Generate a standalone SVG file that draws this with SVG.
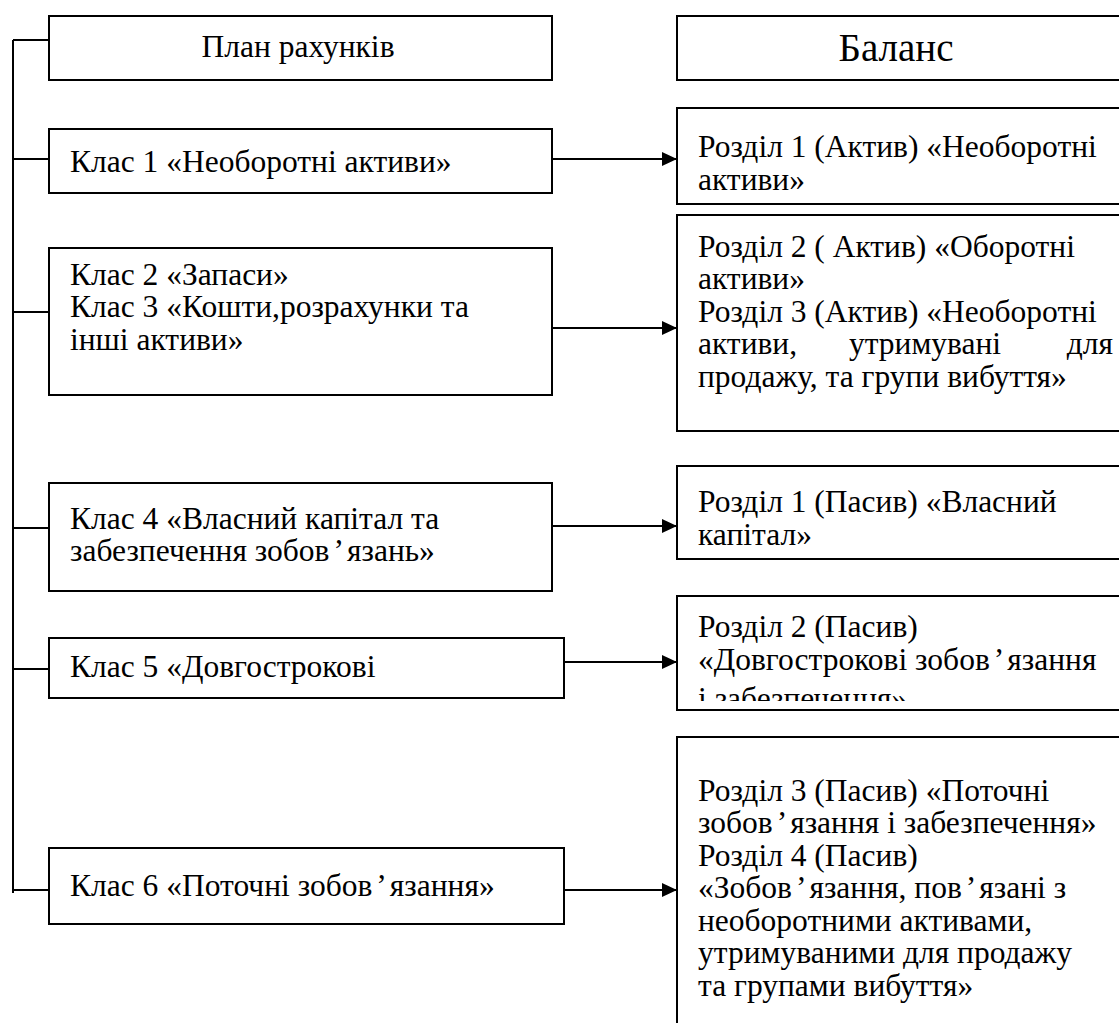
<svg xmlns="http://www.w3.org/2000/svg" width="1119" height="1023" viewBox="0 0 1119 1023">
<style>
.box{fill:#fff;stroke:#000;stroke-width:2}
.ln{stroke:#000;stroke-width:2;fill:none}
text{font-family:"Liberation Serif","Times New Roman",serif;font-size:31.5px;fill:#000}
.big{font-size:39px}
</style>
<defs>
<marker id="ah" markerWidth="16" markerHeight="14" refX="15" refY="7" orient="auto" markerUnits="userSpaceOnUse">
<path d="M0,0 L15,7 L0,14 Z" fill="#000"/>
</marker>
<clipPath id="clipP2"><rect x="677" y="596" width="450" height="105"/></clipPath>
</defs>
<rect width="1119" height="1023" fill="#fff"/>

<g id="bracket">
<path class="ln" d="M13,40 V893 M13,40 H49 M13,159 H49 M13,312 H49 M13,528 H49 M13,669 H49 M13,890 H49"/>
</g>

<g id="plan">
<rect class="box" x="49" y="16" width="503" height="64"/>
<text x="298" y="57" text-anchor="middle">План рахунків</text>
</g>
<g id="balans">
<rect class="box" x="677" y="16" width="460" height="64"/>
<text class="big" x="896" y="61" text-anchor="middle">Баланс</text>
</g>

<g id="klas1">
<rect class="box" x="49" y="129" width="503" height="64"/>
<text x="70" y="172">Клас 1 «Необоротні активи»</text>
</g>
<g id="rozdil1a">
<rect class="box" x="677" y="108" width="460" height="96"/>
<text x="698" y="157">Розділ 1 (Актив) «Необоротні</text>
<text x="698" y="190">активи»</text>
</g>

<g id="klas23">
<rect class="box" x="49" y="248" width="503" height="147"/>
<text x="70" y="285">Клас 2 «Запаси»</text>
<text x="70" y="317">Клас 3 «Кошти,розрахунки та</text>
<text x="70" y="350">інші активи»</text>
</g>
<g id="rozdil23a">
<rect class="box" x="677" y="215" width="460" height="216"/>
<text x="698" y="257">Розділ 2 ( Актив) «Оборотні</text>
<text x="698" y="289">активи»</text>
<text x="698" y="322">Розділ 3 (Актив) «Необоротні</text>
<text x="698" y="354">активи,</text>
<text x="925" y="354" text-anchor="middle">утримувані</text>
<text x="1113" y="354" text-anchor="end">для</text>
<text x="698" y="387">продажу, та групи вибуття»</text>
</g>

<g id="klas4">
<rect class="box" x="49" y="483" width="503" height="108"/>
<text x="70" y="529">Клас 4 «Власний капітал та</text>
<text x="70" y="561">забезпечення зобов<tspan dx="4">’</tspan><tspan dx="3">язань»</tspan></text>
</g>
<g id="rozdil1p">
<rect class="box" x="677" y="466" width="460" height="93"/>
<text x="698" y="512">Розділ 1 (Пасив) «Власний</text>
<text x="698" y="545">капітал»</text>
</g>

<g id="klas5">
<rect class="box" x="49" y="638" width="515" height="60"/>
<text x="70" y="677">Клас 5 «Довгострокові</text>
</g>
<g id="rozdil2p">
<rect class="box" x="677" y="596" width="460" height="114"/>
<text x="698" y="637">Розділ 2 (Пасив)</text>
<text x="698" y="670">«Довгострокові зобов<tspan dx="4">’</tspan><tspan dx="3">язання</tspan></text>
<text x="698" y="709" clip-path="url(#clipP2)">і забезпечення»</text>
</g>

<g id="klas6">
<rect class="box" x="49" y="848" width="515" height="76"/>
<text x="70" y="896">Клас 6 «Поточні зобов<tspan dx="4">’</tspan><tspan dx="3">язання»</tspan></text>
</g>
<g id="rozdil34p">
<rect class="box" x="677" y="737" width="460" height="320"/>
<text x="698" y="801">Розділ 3 (Пасив) «Поточні</text>
<text x="698" y="833">зобов<tspan dx="4">’</tspan><tspan dx="3">язання і забезпечення»</tspan></text>
<text x="698" y="866">Розділ 4 (Пасив)</text>
<text x="698" y="898">«Зобов<tspan dx="4">’</tspan><tspan dx="3">язання, пов</tspan><tspan dx="4">’</tspan><tspan dx="3">язані з</tspan></text>
<text x="698" y="931">необоротними активами,</text>
<text x="698" y="963">утримуваними для продажу</text>
<text x="698" y="996">та групами вибуття»</text>
</g>

<g id="connectors">
<line class="ln" x1="552" y1="159" x2="677" y2="159" marker-end="url(#ah)"/>
<line class="ln" x1="552" y1="328" x2="677" y2="328" marker-end="url(#ah)"/>
<line class="ln" x1="552" y1="526" x2="677" y2="526" marker-end="url(#ah)"/>
<line class="ln" x1="564" y1="662" x2="677" y2="662" marker-end="url(#ah)"/>
<line class="ln" x1="564" y1="890" x2="677" y2="890" marker-end="url(#ah)"/>
</g>
</svg>
